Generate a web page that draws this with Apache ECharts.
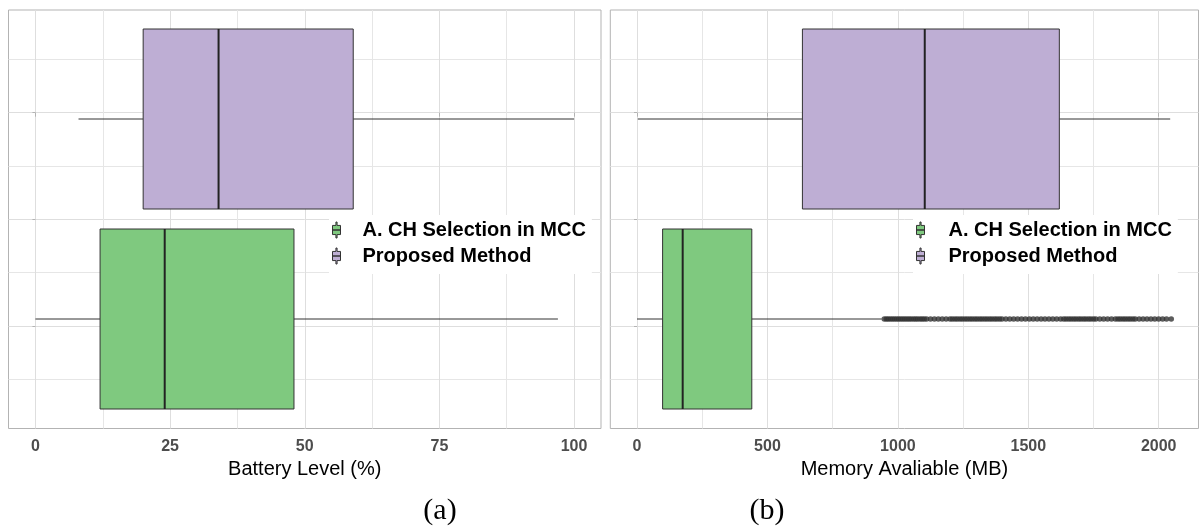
<!DOCTYPE html>
<html>
<head>
<meta charset="utf-8">
<script src="https://cdn.jsdelivr.net/npm/echarts@6/dist/echarts.min.js"></script>
<style>
html, body { margin: 0; padding: 0; background: #fff; }
#chart { width: 1199px; height: 531px; }
</style>
</head>
<body>
<div id="chart"></div>
<script>
let groups = ['A. CH Selection in MCC', 'Proposed Method'];
let colorList = ['#7fc97f', '#beaed4'];

// [min, q1, median, q3, max]
let batteryCH = [0, 12, 24, 48, 97];
let batteryProposed = [8, 20, 34, 59, 100];
let memoryCH = [0, 98, 175, 440, 938];
let memoryProposed = [3, 634, 1103, 1619, 2044];

// outliers of A. CH Selection in MCC (Memory)
let memoryCHOutliers = [
    948, 956, 963, 971, 979, 987, 995, 1003, 1011, 1019, 1027, 1035, 1043, 1051, 1060, 1068,
    1076, 1085, 1093, 1101, 1110, 1125, 1140, 1155, 1170, 1185, 1200, 1209, 1219, 1228, 1238, 1247,
    1257, 1266, 1276, 1285, 1295, 1304, 1314, 1323, 1333, 1342, 1352, 1361, 1371, 1380, 1390,
    1399, 1414, 1429, 1444, 1459, 1474, 1489, 1504, 1519, 1534, 1549, 1564, 1579, 1594, 1609,
    1624, 1636, 1645, 1655, 1664, 1674, 1683, 1693, 1702, 1712, 1721, 1731, 1740, 1750, 1759,
    1774, 1789, 1804, 1819, 1834, 1844, 1853, 1863, 1872, 1882, 1891, 1901, 1910, 1925, 1940,
    1955, 1970, 1985, 2000, 2015, 2030, 2048
];

let batteryTicks = [0, 25, 50, 75, 100];
let memoryTicks = [0, 500, 1000, 1500, 2000];

let sansFont = '"Liberation Sans", Arial, sans-serif';
let legendIcon = 'path://M3,0H4V3H7V7H0V3H3ZM0,7H7V11H4V14H3V11H0Z';

let renderBox = function (params, api) {
    let cat = api.value(0);
    let p = [1, 2, 3, 4, 5].map(function (i) {
        return api.coord([api.value(i), cat]);
    });
    let half = api.size([0, 1])[1] * 0.45;
    let y = p[0][1];
    let line = { stroke: '#333', lineWidth: 1 };
    return {
        type: 'group',
        children: [
            { type: 'line', shape: { x1: p[0][0], y1: y, x2: p[1][0], y2: y }, style: line },
            { type: 'line', shape: { x1: p[3][0], y1: y, x2: p[4][0], y2: y }, style: line },
            {
                type: 'rect',
                shape: { x: p[1][0], y: y - half, width: p[3][0] - p[1][0], height: half * 2 },
                style: { fill: api.visual('color'), stroke: '#333', lineWidth: 1 }
            },
            { type: 'line', shape: { x1: p[2][0], y1: y - half, x2: p[2][0], y2: y + half }, style: { stroke: '#222', lineWidth: 2 } }
        ]
    };
};

let frameX = function (gridIndex, min, max, step, ticks, name) {
    return {
        gridIndex: gridIndex,
        type: 'value',
        min: min,
        max: max,
        minInterval: step,
        maxInterval: step,
        axisLine: { show: false },
        axisTick: { show: true, length: 4, customValues: ticks, lineStyle: { color: '#b3b3b3' } },
        axisLabel: {
            customValues: ticks,
            formatter: function (v) { return String(v); },
            margin: 10,
            color: '#4d4d4d',
            fontSize: 16,
            fontWeight: 'bold',
            fontFamily: sansFont
        },
        splitLine: { show: true, lineStyle: { color: '#dedede', width: 1 } },
        minorTick: { show: false, splitNumber: 2 },
        minorSplitLine: { show: true, lineStyle: { color: '#e6e6e6', width: 1 } },
        name: name,
        nameLocation: 'middle',
        nameGap: 28,
        nameTextStyle: { color: '#000', fontSize: 20, fontFamily: sansFont }
    };
};

let boxX = function (gridIndex, min, max) {
    return {
        gridIndex: gridIndex, type: 'value', min: min, max: max,
        axisLine: { show: false }, axisTick: { show: false }, axisLabel: { show: false }, splitLine: { show: false }
    };
};

let frameY = function (gridIndex) {
    return {
        gridIndex: gridIndex,
        type: 'value',
        inverse: true,
        min: -1.925,
        max: 5.922,
        minInterval: 2,
        maxInterval: 2,
        axisLine: { show: false },
        axisLabel: { show: false },
        axisTick: { show: true, length: 3, customValues: [0, 2, 4], lineStyle: { color: '#b3b3b3' } },
        splitLine: { show: true, lineStyle: { color: '#dedede', width: 1 } },
        minorTick: { show: false, splitNumber: 2 },
        minorSplitLine: { show: true, lineStyle: { color: '#e6e6e6', width: 1 } }
    };
};

let boxY = function (gridIndex) {
    return {
        gridIndex: gridIndex, type: 'category', data: groups,
        axisLine: { show: false }, axisTick: { show: false }, axisLabel: { show: false }, splitLine: { show: false }
    };
};

let boxSeries = function (name, axisIndex, catIndex, stats, color) {
    return {
        name: name,
        type: 'custom',
        xAxisIndex: axisIndex,
        yAxisIndex: axisIndex,
        renderItem: renderBox,
        itemStyle: { color: color, borderColor: '#333', borderWidth: 1 },
        encode: { x: [1, 2, 3, 4, 5], y: 0 },
        data: [[catIndex].concat(stats)]
    };
};

let legendBox = function (left, textPad) {
    return {
        orient: 'vertical',
        left: left,
        top: 215,
        selectedMode: false,
        backgroundColor: '#fff',
        padding: [3, 6, 6, 3],
        itemGap: 2,
        itemWidth: 8,
        itemHeight: 16,
        icon: legendIcon,
        itemStyle: { borderColor: '#333', borderWidth: 1 },
        data: groups,
        textStyle: {
            color: '#000',
            fontFamily: sansFont,
            fontWeight: 'bold',
            fontSize: 20,
            lineHeight: 24,
            padding: [0, 0, 0, textPad]
        }
    };
};

let option = {
    animation: false,
    backgroundColor: '#fff',
    grid: [
        { left: 8.5, top: 10, width: 592.5, height: 418.5, show: true, borderColor: '#b3b3b3', borderWidth: 1, backgroundColor: '#fff' },
        { left: 8.5, top: 19, width: 592.5, height: 400 },
        { left: 610.3, top: 10, width: 588.2, height: 418.5, show: true, borderColor: '#b3b3b3', borderWidth: 1, backgroundColor: '#fff' },
        { left: 610.3, top: 19, width: 588.2, height: 400 }
    ],
    xAxis: [
        frameX(0, -5, 105, 25, batteryTicks, 'Battery Level (%)'),
        boxX(1, -5, 105),
        frameX(2, -102.5, 2152.5, 500, memoryTicks, 'Memory Avaliable (MB)'),
        boxX(3, -102.5, 2152.5)
    ],
    yAxis: [frameY(0), boxY(1), frameY(2), boxY(3)],
    legend: [legendBox(329, 17), legendBox(913, 19)],
    series: [
        boxSeries(groups[0], 1, 0, batteryCH, colorList[0]),
        boxSeries(groups[1], 1, 1, batteryProposed, colorList[1]),
        boxSeries(groups[0], 3, 0, memoryCH, colorList[0]),
        boxSeries(groups[1], 3, 1, memoryProposed, colorList[1]),
        {
            name: 'outliers',
            type: 'scatter',
            xAxisIndex: 3,
            yAxisIndex: 3,
            symbolSize: 5.6,
            itemStyle: { color: '#333' },
            data: memoryCHOutliers.map(function (v) { return [v, 0]; })
        }
    ],
    graphic: [
        { type: 'text', x: 440, y: 511, style: { text: '(a)', fill: '#000', fontSize: 30, fontFamily: '"Liberation Serif", "DejaVu Serif", serif', align: 'center', verticalAlign: 'middle' } },
        { type: 'text', x: 767, y: 511, style: { text: '(b)', fill: '#000', fontSize: 30, fontFamily: '"Liberation Serif", "DejaVu Serif", serif', align: 'center', verticalAlign: 'middle' } }
    ]
};

let chart = echarts.init(document.getElementById('chart'));
chart.setOption(option);
</script>
</body>
</html>
